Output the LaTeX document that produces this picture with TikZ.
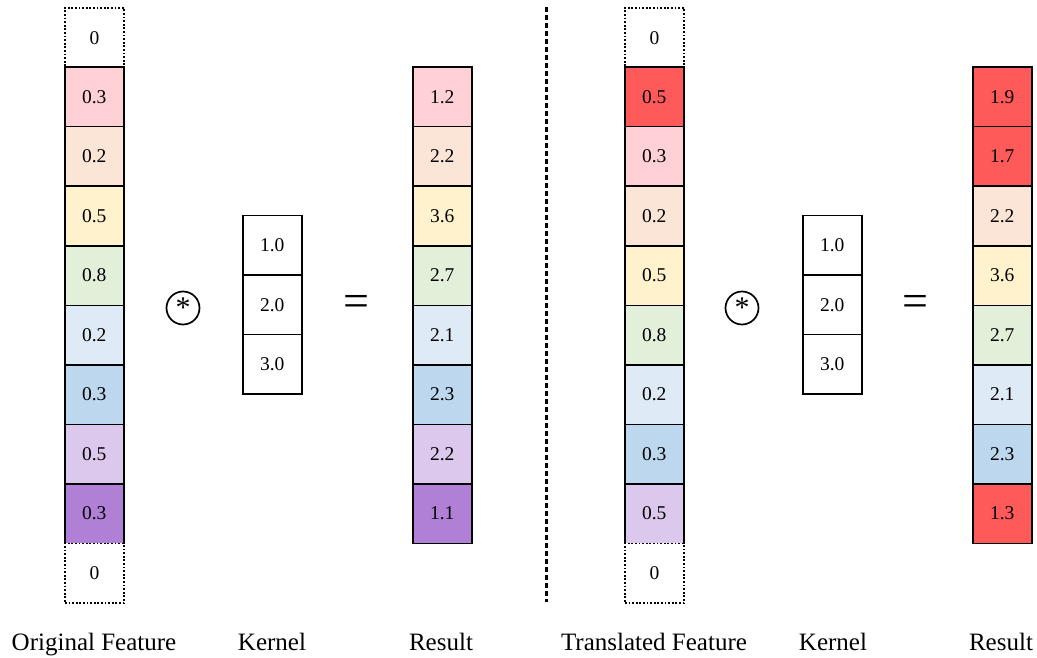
\documentclass[tikz,border=0pt]{standalone}
\usepackage{fontspec}
\setmainfont{Liberation Serif}
\definecolor{cpink}{HTML}{FFD1D6}
\definecolor{cpeach}{HTML}{FBE5D6}
\definecolor{cyellow}{HTML}{FFF2CC}
\definecolor{cgreen}{HTML}{E2EFD9}
\definecolor{cltblue}{HTML}{DEEAF6}
\definecolor{cblue}{HTML}{BDD7EE}
\definecolor{clav}{HTML}{DCC8EC}
\definecolor{cpurple}{HTML}{B07FD6}
\definecolor{cred}{HTML}{FF5A5A}
\tikzset{
  x=1pt, y=-1pt,
  cell/.style={draw=black, line width=1.5pt, minimum width=59pt, minimum height=59.5pt, inner sep=0pt, anchor=north west, font=\fontsize{19.5}{21}\selectfont},
  pad/.style={cell, draw=black, line width=1.8pt, dash pattern=on 1.8pt off 1.8pt, fill=white},
  lab/.style={font=\fontsize{25}{28}\selectfont, anchor=base},
  conv/.style={circle, draw, line width=1.7pt, minimum size=33pt, inner sep=0pt, font=\fontsize{30}{30}\selectfont},
  eq/.style={font=\fontsize{46}{46}\selectfont, inner sep=0pt}
}
\begin{document}
\begin{tikzpicture}
\useasboundingbox (0,0) rectangle (1037,658);
% Original feature
\node[pad] (o0) at (64,7) {0};
\foreach \i/\v/\c in {1/0.3/cpink,2/0.2/cpeach,3/0.5/cyellow,4/0.8/cgreen,5/0.2/cltblue,6/0.3/cblue,7/0.5/clav,8/0.3/cpurple}
  \node[cell, fill=\c] (o\i) at (64,{7+59.5*\i}) {\v};
\node[pad] (o9) at (64,{7+59.5*9}) {0};
% conv
\node[conv] (c1) at (183,308) {\raisebox{-9pt}{*}};
% kernel
\foreach \i/\v in {0/1.0,1/2.0,2/3.0}
  \node[cell, fill=white] (k\i) at (242,{215+59.3*\i}) {\v};
\node[eq] (e1) at (356,306) {=};
% Result
\foreach \i/\v/\c in {1/1.2/cpink,2/2.2/cpeach,3/3.6/cyellow,4/2.7/cgreen,5/2.1/cltblue,6/2.3/cblue,7/2.2/clav,8/1.1/cpurple}
  \node[cell, fill=\c] (r\i) at (412,{7+59.5*\i}) {\v};
% divider
\coordinate (d0) at (546,7);
\coordinate (d1) at (546,602);
\draw[line width=3pt, dash pattern=on 5pt off 3pt] (d0) -- (d1);
% Translated feature
\node[pad] (t0) at (624,7) {0};
\foreach \i/\v/\c in {1/0.5/cred,2/0.3/cpink,3/0.2/cpeach,4/0.5/cyellow,5/0.8/cgreen,6/0.2/cltblue,7/0.3/cblue,8/0.5/clav}
  \node[cell, fill=\c] (t\i) at (624,{7+59.5*\i}) {\v};
\node[pad] (t9) at (624,{7+59.5*9}) {0};
\node[conv] (c2) at (742,308) {\raisebox{-9pt}{*}};
\foreach \i/\v in {0/1.0,1/2.0,2/3.0}
  \node[cell, fill=white] (q\i) at (802,{215+59.3*\i}) {\v};
\node[eq] (e2) at (915,306) {=};
\foreach \i/\v/\c in {1/1.9/cred,2/1.7/cred,3/2.2/cpeach,4/3.6/cyellow,5/2.7/cgreen,6/2.1/cltblue,7/2.3/cblue,8/1.3/cred}
  \node[cell, fill=\c] (s\i) at (972,{7+59.5*\i}) {\v};
% labels
\node[lab] (l1) at (94,650) {Original Feature};
\node[lab] (l2) at (272,650) {Kernel};
\node[lab] (l3) at (441,650) {Result};
\node[lab] (l4) at (654,650) {Translated Feature};
\node[lab] (l5) at (833,650) {Kernel};
\node[lab] (l6) at (1001,650) {Result};
\end{tikzpicture}
\end{document}
